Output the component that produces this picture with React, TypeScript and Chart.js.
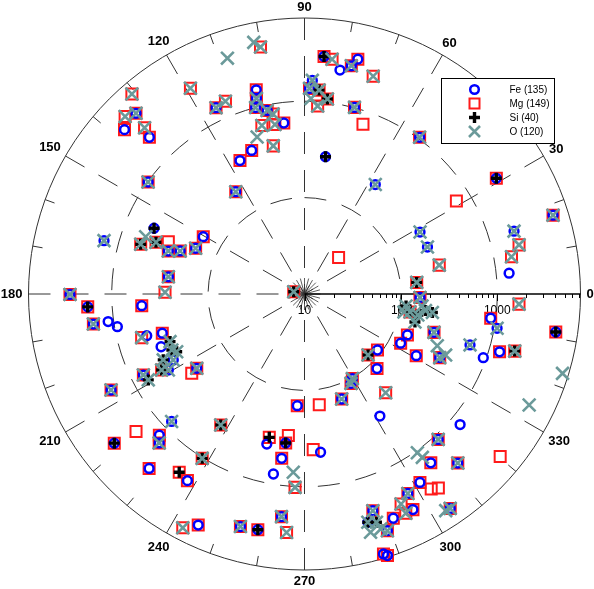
import React, { useEffect, useRef } from "react";
import { Chart, registerables } from "chart.js";

Chart.register(...registerables);

// ---- scale / labels ----
const R_MIN = 10; // value at the centre
const R_MAX = 7300; // value at the outer circle
const RADIAL_LABELS = [10, 100, 1000];
const DASHED_RINGS = [100, 1000];
const ANGLE_LABELS = [0, 30, 60, 90, 120, 150, 180, 210, 240, 270, 300, 330];
const SERIES_NAMES = ["Fe (135)", "Mg (149)", "Si (40)", "O (120)"];

// ---- data: [angle in degrees, value] ----
const FE: [number, number][] = [
  [133.0, 3660], [137.6, 3380], [134.7, 1940], [144.4, 990], [123.9, 190], [115.4, 1380],
  [103.3, 1500], [103.8, 1230], [104.7, 1000], [101.5, 877], [96.9, 612], [110.2, 386],
  [115.8, 345], [85.3, 2970], [77.2, 3150], [78.4, 2610], [81.0, 2250], [87.9, 1650],
  [88.6, 1360], [75.0, 1010], [53.7, 1040], [81.3, 276], [57.1, 225], [31.1, 2110],
  [17.6, 5070], [16.7, 1860], [5.8, 1360], [28.2, 229], [20.9, 232], [351.4, 4330],
  [358.3, 158], [352.6, 887], [349.9, 1070], [343.5, 252], [334.8, 355], [338.3, 141],
  [332.9, 132], [331.1, 211], [342.9, 626], [340.4, 931], [343.5, 1290], [322.5, 90],
  [314.2, 120], [299.5, 102], [297.5, 111], [266.3, 145], [289.5, 143], [301.7, 308],
  [320.0, 1280], [312.6, 1120], [306.8, 1540], [312.2, 2330], [275.8, 447], [301.5, 1960],
  [297.4, 2140], [296.7, 3190], [291.6, 3180], [287.5, 2280], [285.5, 2870], [289.3, 4000],
  [304.2, 4890], [286.9, 6580], [287.6, 7030], [206.4, 1740], [223.8, 813], [224.2, 1260],
  [225.7, 1440], [218.1, 3220], [262.8, 361], [255.9, 403], [262.1, 526], [228.3, 2650],
  [237.9, 1930], [260.2, 785], [264.1, 2100], [245.3, 4350], [254.6, 3180], [258.8, 3110],
  [156.4, 505], [162.5, 303], [160.9, 232], [157.2, 168], [150.5, 161], [165.1, 1420],
  [172.8, 265], [180.1, 2710], [183.4, 1790], [188.1, 1630], [188.0, 1140], [189.9, 935],
  [184.1, 493], [194.8, 493], [195.4, 339], [200.2, 385], [206.7, 334], [209.2, 415],
  [214.6, 228], [206.7, 743],
];

const MG: [number, number][] = [
  [100.1, 4000], [119.0, 2760], [130.8, 5500], [135.3, 4150], [133.0, 3660], [137.6, 3380],
  [133.9, 2470], [134.7, 1940], [144.4, 990], [123.9, 190], [115.4, 1380], [112.3, 1450],
  [103.3, 1500], [103.8, 1230], [104.7, 1000], [101.5, 877], [99.9, 785], [96.9, 612],
  [104.2, 635], [99.9, 610], [101.9, 372], [110.2, 386], [115.8, 345], [85.3, 2970],
  [83.3, 2830], [77.2, 3150], [78.4, 2610], [72.5, 2340], [88.6, 1360], [85.9, 1320],
  [83.3, 1090], [86.0, 900], [75.0, 1010], [71.0, 730], [53.7, 1040], [31.1, 2110],
  [31.5, 705], [17.6, 5070], [12.9, 1920], [10.2, 1520], [12.1, 269], [47.0, 33],
  [5.9, 148], [357.3, 1690], [351.4, 4330], [358.3, 158], [350.3, 129], [352.6, 887],
  [343.5, 252], [334.8, 355], [338.3, 141], [332.9, 132], [331.1, 211], [343.5, 1290],
  [344.8, 1820], [316.2, 82], [322.5, 90], [314.2, 120], [299.5, 102], [297.5, 111],
  [309.4, 212], [266.3, 145], [277.6, 144], [289.5, 143], [312.6, 1120], [306.8, 1540],
  [312.2, 2330], [320.3, 4350], [273.2, 414], [301.5, 1960], [303.0, 2590], [304.6, 2790],
  [297.4, 2140], [294.7, 2500], [296.7, 3190], [294.8, 3200], [291.6, 3180], [287.5, 2280],
  [289.3, 4000], [304.2, 4890], [286.9, 6580], [287.6, 7030], [206.4, 1740], [237.4, 410],
  [219.2, 1800], [224.2, 1260], [225.7, 1440], [218.1, 3220], [256.2, 340], [262.8, 361],
  [263.5, 301], [238.1, 1020], [262.1, 526], [228.3, 2650], [234.9, 1820], [237.9, 1930],
  [267.2, 1020], [264.1, 2100], [265.7, 3030], [242.5, 5430], [245.3, 4350], [254.6, 3180],
  [258.8, 3110], [163.1, 597], [160.8, 428], [159.0, 326], [162.5, 303], [160.9, 232],
  [157.2, 168], [150.5, 161], [172.8, 265], [179.3, 280], [180.1, 2710], [183.4, 1790],
  [188.1, 1630], [184.1, 493], [195.0, 561], [195.4, 339], [208.0, 477], [214.6, 228],
  [215.1, 269], [206.7, 743], [168.4, 13],
];

const SI: [number, number][] = [
  [85.3, 2970], [85.9, 1320], [83.3, 1090], [81.3, 276], [31.1, 2110], [5.9, 148],
  [351.4, 4330], [353.3, 115], [350.3, 129], [349.5, 157], [352.2, 185], [351.8, 219],
  [345.8, 152], [344.8, 1820], [316.2, 82], [285.5, 2870], [287.5, 3040], [237.4, 410],
  [218.1, 3220], [256.2, 340], [262.8, 361], [238.1, 1020], [234.9, 1820], [258.8, 3110],
  [156.4, 505], [163.1, 597], [160.8, 428], [183.4, 1790], [199.5, 302], [202.9, 312],
  [204.3, 285], [205.0, 414], [208.0, 477], [208.8, 707], [168.4, 13],
];

const OX: [number, number][] = [
  [101.4, 4600], [100.1, 4000], [108.1, 3750], [119.0, 2760], [130.8, 5500], [135.3, 4150],
  [133.0, 3660], [133.9, 2470], [144.4, 990], [123.9, 190], [115.4, 1380], [112.3, 1450],
  [103.8, 1230], [104.7, 1000], [101.5, 877], [99.9, 785], [104.2, 635], [99.9, 610],
  [106.8, 502], [101.9, 372], [83.3, 2830], [78.4, 2610], [72.5, 2340], [87.9, 1650],
  [88.6, 1360], [85.9, 1320], [83.3, 1090], [88.1, 1070], [86.0, 900], [75.0, 1010],
  [53.7, 1040], [57.1, 225], [17.6, 5070], [16.7, 1860], [12.9, 1920], [10.2, 1520],
  [28.2, 229], [20.9, 232], [12.1, 269], [5.9, 148], [357.3, 1690], [342.9, 6320],
  [333.7, 3980], [358.3, 158], [353.3, 115], [350.3, 129], [349.5, 157], [352.2, 185],
  [351.8, 219], [345.8, 152], [354.2, 168], [349.7, 112], [349.9, 1070], [343.5, 252],
  [338.7, 301], [336.6, 394], [334.8, 355], [342.9, 626], [344.8, 1820], [316.2, 82],
  [299.5, 102], [297.5, 111], [309.4, 212], [289.5, 143], [312.6, 1120], [305.4, 1050],
  [305.8, 1230], [312.2, 2330], [297.4, 2140], [294.7, 2500], [294.8, 3200], [287.5, 2280],
  [285.5, 2870], [287.5, 3040], [285.5, 3670], [288.0, 3650], [289.3, 4000], [304.2, 4890],
  [303.1, 4820], [206.4, 1740], [223.8, 813], [237.4, 410], [225.7, 1440], [238.1, 1020],
  [266.4, 713], [267.2, 1020], [264.1, 2100], [265.7, 3030], [242.5, 5430], [254.6, 3180],
  [160.2, 564], [163.1, 597], [160.8, 428], [162.5, 303], [160.9, 232], [157.2, 168],
  [165.1, 1420], [172.8, 265], [179.3, 280], [180.1, 2710], [188.1, 1630], [195.0, 561],
  [199.5, 302], [202.9, 312], [204.3, 285], [205.0, 414], [206.7, 334], [208.0, 477],
  [209.2, 415], [214.6, 228], [206.7, 743], [208.8, 707], [168.4, 13],
];

// ---- styles ----
const FONT = "'Liberation Sans', Arial, Helvetica, sans-serif";
const GRID = "#333333";
const FE_COLOR = "#0000ff";
const MG_COLOR = "#ff1a1a";
const SI_COLOR = "#000000";
const O_COLOR = "#6b9a9a";

const RD = Math.log10(R_MAX / R_MIN); // radius in decades

function toXY(p: [number, number]) {
  const r = Math.log10(Math.max(p[1], R_MIN) / R_MIN);
  const a = (p[0] * Math.PI) / 180;
  return { x: r * Math.cos(a), y: r * Math.sin(a) };
}

function geom(chart: any) {
  const xs = chart.scales.x;
  const ys = chart.scales.y;
  const cx = xs.getPixelForValue(0);
  const cy = ys.getPixelForValue(0);
  const dec = xs.getPixelForValue(1) - cx;
  return { cx, cy, dec, R: RD * dec };
}

const polarGrid = {
  id: "polarGrid",
  beforeDatasetsDraw(chart: any) {
    const ctx = chart.ctx as CanvasRenderingContext2D;
    const { cx, cy, dec, R } = geom(chart);
    ctx.save();
    ctx.strokeStyle = GRID;
    ctx.fillStyle = "#000";

    // outer circle
    ctx.lineWidth = 1;
    ctx.setLineDash([]);
    ctx.beginPath();
    ctx.arc(cx, cy, R, 0, Math.PI * 2);
    ctx.stroke();

    // dashed rings
    ctx.setLineDash([22, 16]);
    for (const v of DASHED_RINGS) {
      const r = Math.log10(v / R_MIN) * dec;
      ctx.beginPath();
      ctx.arc(cx, cy, r, -Math.PI / 2, Math.PI * 1.5);
      ctx.stroke();
    }

    // dashed spokes every 30 deg (except 0 axis)
    for (const a of ANGLE_LABELS) {
      if (a === 0) continue;
      const t = (a * Math.PI) / 180;
      ctx.beginPath();
      ctx.moveTo(cx + R * Math.cos(t), cy - R * Math.sin(t));
      ctx.lineTo(cx, cy);
      ctx.stroke();
    }
    ctx.setLineDash([]);

    // minor ticks every 10 deg
    for (let a = 0; a < 360; a += 10) {
      if (a % 30 === 0) continue;
      const t = (a * Math.PI) / 180;
      ctx.beginPath();
      ctx.moveTo(cx + R * Math.cos(t), cy - R * Math.sin(t));
      ctx.lineTo(cx + (R - 10) * Math.cos(t), cy - (R - 10) * Math.sin(t));
      ctx.stroke();
    }

    // centre star
    ctx.lineWidth = 0.8;
    for (let a = 0; a < 360; a += 15) {
      const t = (a * Math.PI) / 180;
      ctx.beginPath();
      ctx.moveTo(cx, cy);
      ctx.lineTo(cx + 16 * Math.cos(t), cy - 16 * Math.sin(t));
      ctx.stroke();
    }

    // 0 deg radial axis with log ticks
    ctx.strokeStyle = "#000";
    ctx.lineWidth = 1.5;
    ctx.beginPath();
    ctx.moveTo(cx, cy);
    ctx.lineTo(cx + R, cy);
    ctx.stroke();
    ctx.lineWidth = 1;
    for (let d = 1; d <= 4; d++) {
      for (let m = 1; m <= 9; m++) {
        const v = m * Math.pow(10, d);
        if (v > R_MAX) continue;
        const x = cx + Math.log10(v / R_MIN) * dec;
        const len = m === 1 ? 7 : 4;
        ctx.beginPath();
        ctx.moveTo(Math.round(x) + 0.5, cy);
        ctx.lineTo(Math.round(x) + 0.5, cy + len);
        ctx.stroke();
      }
    }

    // radial labels
    ctx.font = `12px ${FONT}`;
    ctx.textAlign = "center";
    ctx.textBaseline = "middle";
    for (const v of RADIAL_LABELS) {
      const x = cx + Math.log10(v / R_MIN) * dec;
      ctx.fillText(String(v), x, cy + 17);
    }

    // angle labels
    ctx.font = `bold 13px ${FONT}`;
    for (const a of ANGLE_LABELS) {
      const t = (a * Math.PI) / 180;
      const txt = String(a);
      const w = ctx.measureText(txt).width;
      const h = 10;
      const ext = Math.abs(Math.cos(t)) * w / 2 + Math.abs(Math.sin(t)) * h / 2;
      const rr = R + 6 + ext;
      ctx.fillText(txt, cx + rr * Math.cos(t), cy - rr * Math.sin(t) + 0.5);
    }
    ctx.restore();
  },
  afterDatasetsDraw(chart: any) {
    const ctx = chart.ctx as CanvasRenderingContext2D;
    const { cx, cy } = geom(chart);
    const x0 = Math.round(cx + 136.5) + 0.5;
    const y0 = Math.round(cy - 216) + 0.5;
    const w = 113;
    const h = 65;
    ctx.save();
    ctx.fillStyle = "#fff";
    ctx.fillRect(x0, y0, w, h);
    ctx.strokeStyle = "#000";
    ctx.lineWidth = 1;
    ctx.strokeRect(x0, y0, w, h);
    ctx.font = `10px ${FONT}`;
    ctx.textAlign = "left";
    ctx.textBaseline = "middle";
    SERIES_NAMES.forEach((name, i) => {
      const y = y0 + 11 + i * 14;
      const mx = x0 + 33;
      ctx.beginPath();
      if (i === 0) {
        ctx.strokeStyle = FE_COLOR;
        ctx.lineWidth = 2.5;
        ctx.arc(mx, y, 4.3, 0, Math.PI * 2);
      } else if (i === 1) {
        ctx.strokeStyle = MG_COLOR;
        ctx.lineWidth = 2;
        ctx.rect(mx - 5, y - 5, 10, 10);
      } else if (i === 2) {
        ctx.strokeStyle = SI_COLOR;
        ctx.lineWidth = 3.4;
        ctx.moveTo(mx - 5.5, y);
        ctx.lineTo(mx + 5.5, y);
        ctx.moveTo(mx, y - 5.5);
        ctx.lineTo(mx, y + 5.5);
      } else {
        ctx.strokeStyle = O_COLOR;
        ctx.lineWidth = 2.6;
        ctx.moveTo(mx - 5.5, y - 5.5);
        ctx.lineTo(mx + 5.5, y + 5.5);
        ctx.moveTo(mx + 5.5, y - 5.5);
        ctx.lineTo(mx - 5.5, y + 5.5);
      }
      ctx.stroke();
      ctx.fillStyle = "#000";
      ctx.fillText(name, x0 + 68, y + 0.5);
    });
    ctx.restore();
  },
};

export default function App() {
  const ref = useRef<HTMLCanvasElement | null>(null);
  useEffect(() => {
    if (!ref.current) return;
    const clear = "rgba(0,0,0,0)";
    const chart = new Chart(ref.current, {
      type: "scatter",
      data: {
        datasets: [
          {
            label: SERIES_NAMES[0],
            data: FE.map(toXY),
            pointStyle: "circle",
            pointRadius: 4.4,
            borderWidth: 2.5,
            borderColor: FE_COLOR,
            backgroundColor: clear,
            order: 2,
          },
          {
            label: SERIES_NAMES[1],
            data: MG.map(toXY),
            pointStyle: "rect",
            pointRadius: 7.8,
            borderWidth: 2,
            borderColor: MG_COLOR,
            backgroundColor: clear,
            order: 3,
          },
          {
            label: SERIES_NAMES[2],
            data: SI.map(toXY),
            pointStyle: "cross",
            pointRadius: 5.5,
            borderWidth: 3.4,
            borderColor: SI_COLOR,
            backgroundColor: clear,
            order: 1,
          },
          {
            label: SERIES_NAMES[3],
            data: OX.map(toXY),
            pointStyle: "crossRot",
            pointRadius: 9,
            borderWidth: 2.6,
            borderColor: O_COLOR,
            backgroundColor: clear,
            order: 0,
          },
        ] as any,
      },
      options: {
        animation: false,
        responsive: false,
        maintainAspectRatio: false,
        devicePixelRatio: 1,
        layout: { padding: { left: 28.5, right: 13.5, top: 18, bottom: 19 } },
        scales: {
          x: { type: "linear", min: -RD, max: RD, display: false },
          y: { type: "linear", min: -RD, max: RD, display: false },
        },
        plugins: {
          legend: { display: false },
          tooltip: { enabled: false },
        },
        events: [],
      },
      plugins: [polarGrid],
    });
    return () => chart.destroy();
  }, []);
  return (
    <div style={{ position: "absolute", left: 0, top: 0, width: 594, height: 589, background: "#fff" }}>
      <canvas ref={ref} width={594} height={589} style={{ display: "block" }} />
    </div>
  );
}
